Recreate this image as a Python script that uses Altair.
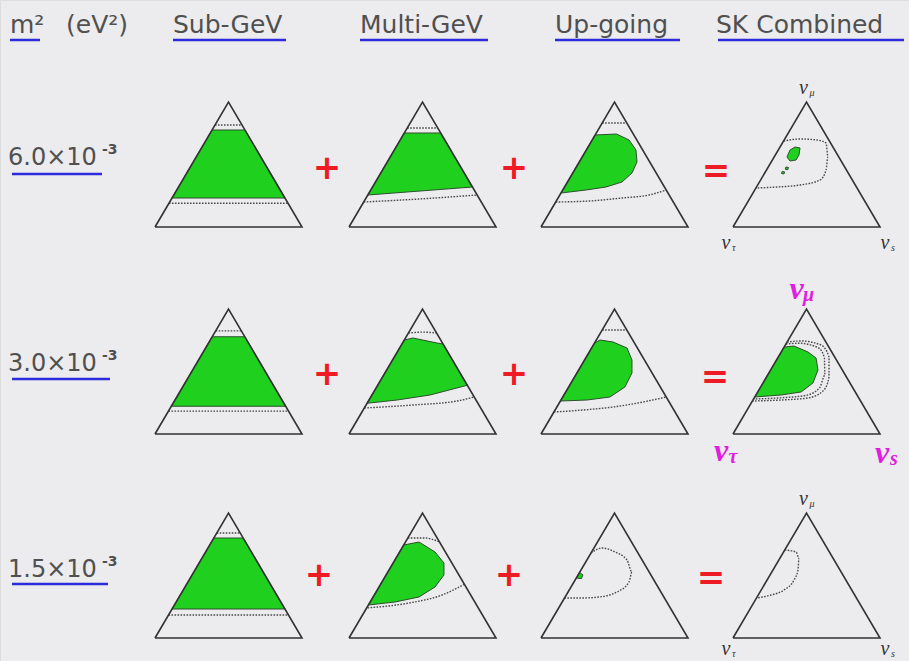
import altair as alt
import pandas as pd

# ---------------- canvas and triangle layout ----------------
CANVAS_W, CANVAS_H = 909, 661
TRI_W, TRI_H = 147, 125
COL_LEFT = [155, 349, 541, 733]     # left corner of each column's triangle
ROW_BASE = [227, 434, 638]          # base line of each row's triangle

# ---------------- text ----------------
header_text = ["m²", "(eV²)", "Sub-GeV", "Multi-GeV", "Up-going", "SK Combined"]
header_x = [10, 66, 173, 360, 555, 716]
header_rule_x = [10, 173, 360, 555, 718]
header_rule_x2 = [40, 286, 488, 680, 904]

mass_mantissa = ["6.0×10", "3.0×10", "1.5×10"]
mass_exponent = ["-3", "-3", "-3"]
mass_baseline = [165, 371, 577]
mass_rule_x2 = [102, 110, 108]
mass_rule_y = [174, 379, 584]

# operators between the panels of each row
op_text = ["+", "+", "="]
op_x = [[327, 514, 716], [327, 514, 715], [319, 509, 711]]
op_y = [169, 375, 576]

# ---------------- Sub-GeV: horizontal allowed bands (fraction of height) ----------------
subgev_green_lo = [0.232, 0.222, 0.232]
subgev_green_hi = [0.776, 0.778, 0.800]
subgev_dot_lo = [0.190, 0.183, 0.184]
subgev_dot_hi = [0.816, 0.825, 0.840]

# ---------------- other regions, in triangle coordinates (s across, t up) ----------------
multi_green_1 = [(0.128, 0.256), (0.84, 0.32), (0.624, 0.752), (0.376, 0.752)]
multi_dot_1a = [(0.396, 0.792), (0.604, 0.792)]
multi_dot_1b = [(0.10, 0.20), (0.45, 0.222), (0.872, 0.256)]

multi_green_2 = [(0.376, 0.752), (0.435, 0.768), (0.599, 0.728), (0.64, 0.72),
                 (0.805, 0.39), (0.551, 0.312), (0.327, 0.272), (0.123, 0.246)]
multi_dot_2a = [(0.404, 0.808), (0.5, 0.815), (0.596, 0.808)]
multi_dot_2b = [(0.104, 0.208), (0.435, 0.232), (0.735, 0.264), (0.852, 0.296)]

multi_green_3 = [(0.372, 0.744), (0.476, 0.768), (0.585, 0.688), (0.646, 0.60),
                 (0.646, 0.504), (0.585, 0.408), (0.476, 0.328), (0.313, 0.288),
                 (0.132, 0.264)]
multi_dot_3a = [(0.40, 0.80), (0.517, 0.80), (0.616, 0.768)]
multi_dot_3b = [(0.785, 0.43), (0.633, 0.344), (0.408, 0.28), (0.12, 0.24)]

up_green_1 = [(0.368, 0.736), (0.514, 0.744), (0.599, 0.696), (0.646, 0.616),
              (0.653, 0.52), (0.619, 0.432), (0.551, 0.36), (0.442, 0.32),
              (0.306, 0.296), (0.136, 0.272)]
up_dot_1a = [(0.416, 0.832), (0.584, 0.832)]
up_dot_1b = [(0.10, 0.20), (0.327, 0.208), (0.551, 0.232), (0.735, 0.256), (0.852, 0.296)]

up_green_2 = [(0.364, 0.728), (0.401, 0.752), (0.49, 0.736), (0.585, 0.688),
              (0.619, 0.592), (0.619, 0.488), (0.571, 0.376), (0.469, 0.296),
              (0.313, 0.272), (0.132, 0.264)]
up_dot_2a = [(0.416, 0.832), (0.584, 0.832)]
up_dot_2b = [(0.088, 0.176), (0.286, 0.192), (0.49, 0.216), (0.694, 0.256), (0.852, 0.296)]

up_green_3 = [(0.262, 0.525), (0.285, 0.505), (0.275, 0.475), (0.24, 0.48)]
up_dot_3 = [(0.34, 0.68), (0.415, 0.72), (0.503, 0.688), (0.585, 0.624), (0.619, 0.528),
            (0.599, 0.448), (0.517, 0.368), (0.395, 0.328), (0.279, 0.32), (0.16, 0.32)]

sk_green_1a = [(0.388, 0.616), (0.422, 0.64), (0.456, 0.632), (0.449, 0.576),
               (0.429, 0.536), (0.388, 0.528), (0.367, 0.56)]
sk_green_1b = [(0.36, 0.48), (0.378, 0.476), (0.372, 0.458), (0.356, 0.462)]
sk_green_1c = [(0.335, 0.445), (0.352, 0.44), (0.346, 0.424), (0.33, 0.428)]
sk_dot_1 = [(0.344, 0.688), (0.456, 0.704), (0.571, 0.696), (0.633, 0.672), (0.646, 0.56),
            (0.633, 0.456), (0.592, 0.376), (0.456, 0.336), (0.299, 0.32), (0.156, 0.312)]

sk_green_2 = [(0.348, 0.696), (0.415, 0.704), (0.51, 0.656), (0.565, 0.608),
              (0.578, 0.512), (0.544, 0.408), (0.463, 0.336), (0.327, 0.312),
              (0.148, 0.296)]
sk_dot_2a = [(0.368, 0.736), (0.463, 0.744), (0.599, 0.712), (0.653, 0.616), (0.653, 0.456),
             (0.619, 0.352), (0.51, 0.288), (0.327, 0.272), (0.132, 0.264)]
sk_dot_2b = [(0.36, 0.72), (0.45, 0.726), (0.58, 0.69), (0.622, 0.61), (0.625, 0.47),
             (0.59, 0.37), (0.5, 0.31), (0.33, 0.29), (0.14, 0.28)]

sk_dot_3 = [(0.352, 0.704), (0.429, 0.688), (0.449, 0.64), (0.442, 0.544), (0.415, 0.464),
            (0.347, 0.384), (0.259, 0.344), (0.16, 0.32)]

# ---------------- helpers ----------------
def to_xy(s, t, r, c):
    return COL_LEFT[c] + s * TRI_W, ROW_BASE[r] - t * TRI_H


def path_frame(paths, closed):
    rows = []
    for name, (r, c, pts) in paths.items():
        seq = list(pts) + ([pts[0]] if closed else [])
        for i, (s, t) in enumerate(seq):
            x, y = to_xy(s, t, r, c)
            rows.append({"id": name, "i": i, "x": x, "y": y})
    return pd.DataFrame(rows)


green_paths = {}
dotted_paths = {}
for r in range(3):
    lo, hi = subgev_green_lo[r], subgev_green_hi[r]
    green_paths[f"sub{r}"] = (r, 0, [(lo / 2, lo), (1 - lo / 2, lo), (1 - hi / 2, hi), (hi / 2, hi)])
    for k, t in enumerate([subgev_dot_lo[r], subgev_dot_hi[r]]):
        dotted_paths[f"sub{r}_{k}"] = (r, 0, [(t / 2, t), (1 - t / 2, t)])

green_paths.update({
    "multi0": (0, 1, multi_green_1), "multi1": (1, 1, multi_green_2), "multi2": (2, 1, multi_green_3),
    "up0": (0, 2, up_green_1), "up1": (1, 2, up_green_2), "up2": (2, 2, up_green_3),
    "sk0a": (0, 3, sk_green_1a), "sk0b": (0, 3, sk_green_1b), "sk0c": (0, 3, sk_green_1c),
    "sk1": (1, 3, sk_green_2),
})
dotted_paths.update({
    "multi0a": (0, 1, multi_dot_1a), "multi0b": (0, 1, multi_dot_1b),
    "multi1a": (1, 1, multi_dot_2a), "multi1b": (1, 1, multi_dot_2b),
    "multi2a": (2, 1, multi_dot_3a), "multi2b": (2, 1, multi_dot_3b),
    "up0a": (0, 2, up_dot_1a), "up0b": (0, 2, up_dot_1b),
    "up1a": (1, 2, up_dot_2a), "up1b": (1, 2, up_dot_2b),
    "up2": (2, 2, up_dot_3),
    "sk0": (0, 3, sk_dot_1), "sk1a": (1, 3, sk_dot_2a), "sk1b": (1, 3, sk_dot_2b),
    "sk2": (2, 3, sk_dot_3),
})
triangles = {f"tri{r}{c}": (r, c, [(0, 0), (0.5, 1), (1, 0)]) for r in range(3) for c in range(4)}

green_df = path_frame(green_paths, closed=True)
dotted_df = path_frame(dotted_paths, closed=False)
tri_df = path_frame(triangles, closed=True)

xs = alt.Scale(domain=[0, CANVAS_W], nice=False, zero=False)
ys = alt.Scale(domain=[0, CANVAS_H], reverse=True, nice=False, zero=False)
X = lambda f="x": alt.X(f"{f}:Q", scale=xs, axis=None)
Y = lambda f="y": alt.Y(f"{f}:Q", scale=ys, axis=None)

green = alt.Chart(green_df).mark_line(
    fill="#1fd01f", stroke="#2f4f2f", strokeWidth=1, strokeJoin="round"
).encode(x=X(), y=Y(), detail="id:N", order="i:Q")

dotted = alt.Chart(dotted_df).mark_line(
    stroke="#4a4a4a", strokeWidth=1.4, strokeDash=[1.6, 1.4], interpolate="monotone"
).encode(x=X(), y=Y(), detail="id:N", order="i:Q")

tri = alt.Chart(tri_df).mark_line(
    stroke="#333333", strokeWidth=1.6, strokeJoin="miter"
).encode(x=X(), y=Y(), detail="id:N", order="i:Q")

# headers
head_df = pd.DataFrame({"x": header_x, "y": [33] * len(header_x), "text": header_text})
heads = alt.Chart(head_df).mark_text(
    align="left", baseline="alphabetic", font="DejaVu Sans", fontSize=25, color="#505050"
).encode(x=X(), y=Y(), text="text:N")

head_rule_df = pd.DataFrame({"x": header_rule_x, "x2": header_rule_x2, "y": [40] * len(header_rule_x)})
head_rules = alt.Chart(head_rule_df).mark_rule(color="#2b2bdc", strokeWidth=2.5).encode(
    x=X(), x2="x2:Q", y=Y())

# mass labels
mass_df = pd.DataFrame({"x": [8] * 3, "y": mass_baseline, "text": mass_mantissa})
mass = alt.Chart(mass_df).mark_text(
    align="left", baseline="alphabetic", font="DejaVu Sans", fontSize=24, color="#505050"
).encode(x=X(), y=Y(), text="text:N")
exp_df = pd.DataFrame({"x": [102] * 3, "y": [b - 11 for b in mass_baseline], "text": mass_exponent})
exps = alt.Chart(exp_df).mark_text(
    align="left", baseline="alphabetic", font="DejaVu Sans", fontWeight="bold", fontSize=14, color="#505050"
).encode(x=X(), y=Y(), text="text:N")
mass_rule_df = pd.DataFrame({"x": [12] * 3, "x2": mass_rule_x2, "y": mass_rule_y})
mass_rules = alt.Chart(mass_rule_df).mark_rule(color="#2b2bdc", strokeWidth=2.5).encode(
    x=X(), x2="x2:Q", y=Y())

# red operators
op_rows = []
for r in range(3):
    for k in range(3):
        op_rows.append({"x": op_x[r][k], "y": op_y[r] + (3 if op_text[k] == "=" else 0), "text": op_text[k]})
ops = alt.Chart(pd.DataFrame(op_rows)).mark_text(
    align="center", baseline="middle", font="DejaVu Sans", fontWeight="bold", fontSize=34, color="#ee1b24"
).encode(x=X(), y=Y(), text="text:N")

# flavour labels on the combined panels
flav_sub = ["μ", "τ", "s"]
corner_drop = [16, 11]          # how far below the base the lower labels sit, rows 0 and 2
nu_rows, sub_rows, hnu_rows, hsub_rows = [], [], [], []
for r, drop in zip((0, 2), corner_drop):
    apex = to_xy(0.5, 1, r, 3)
    left = to_xy(0, 0, r, 3)
    right = to_xy(1, 0, r, 3)
    anchors = [(apex[0] - 3, apex[1] - 14), (left[0] - 7, left[1] + drop), (right[0] + 5, right[1] + drop)]
    for (ax, ay), sub in zip(anchors, flav_sub):
        nu_rows.append({"x": ax, "y": ay, "text": "ν"})
        sub_rows.append({"x": ax + 6, "y": ay + 5, "text": sub})
apex = to_xy(0.5, 1, 1, 3)
left = to_xy(0, 0, 1, 3)
right = to_xy(1, 0, 1, 3)
anchors = [(apex[0] - 10, apex[1] - 20), (left[0] - 12, left[1] + 17), (right[0] + 2, right[1] + 19)]
for (ax, ay), sub in zip(anchors, flav_sub):
    hnu_rows.append({"x": ax, "y": ay, "text": "ν"})
    hsub_rows.append({"x": ax + 12, "y": ay + 6, "text": sub})

nu = alt.Chart(pd.DataFrame(nu_rows)).mark_text(
    align="center", baseline="middle", font="Liberation Serif", fontStyle="italic", fontSize=20, color="#333333"
).encode(x=X(), y=Y(), text="text:N")
nu_sub = alt.Chart(pd.DataFrame(sub_rows)).mark_text(
    align="left", baseline="middle", font="Liberation Serif", fontStyle="italic", fontSize=10, color="#333333"
).encode(x=X(), y=Y(), text="text:N")
hnu = alt.Chart(pd.DataFrame(hnu_rows)).mark_text(
    align="center", baseline="middle", font="Liberation Serif", fontStyle="italic", fontWeight="bold",
    fontSize=32, color="#e01ee0"
).encode(x=X(), y=Y(), text="text:N")
hnu_sub = alt.Chart(pd.DataFrame(hsub_rows)).mark_text(
    align="center", baseline="middle", font="Liberation Serif", fontStyle="italic", fontWeight="bold",
    fontSize=20, color="#e01ee0"
).encode(x=X(), y=Y(), text="text:N")

chart = alt.layer(
    green, dotted, tri, heads, head_rules, mass, exps, mass_rules, ops, nu, nu_sub, hnu, hnu_sub
).properties(
    width=CANVAS_W, height=CANVAS_H, padding=0, autosize=alt.AutoSizeParams(type="none")
).configure_view(strokeWidth=0).configure(background="#ecebee")

chart.save("out.html", embed_options={"renderer": "svg", "actions": False})
